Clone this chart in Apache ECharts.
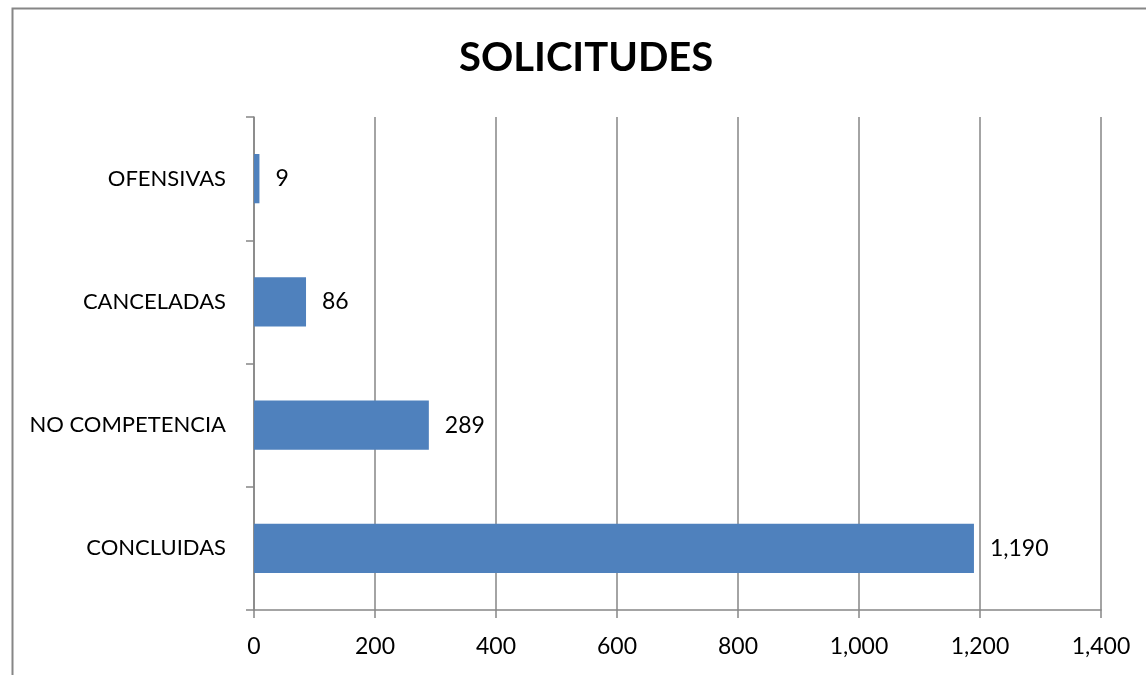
<!DOCTYPE html>
<html>
<head>
<meta charset="utf-8">
<script src="https://cdn.jsdelivr.net/npm/echarts@6/dist/echarts.min.js"></script>
<style>html,body{margin:0;padding:0;background:#fff;}#c{width:1146px;height:675px;}</style>
</head>
<body>
<div id="c"></div>
<script>
const categories = ['CONCLUIDAS', 'NO COMPETENCIA', 'CANCELADAS', 'OFENSIVAS'];
const values = [1190, 289, 86, 9];
const xTicks = [0, 200, 400, 600, 800, 1000, 1200, 1400];

const chart = echarts.init(document.getElementById('c'));
const fmt = v => Number(v).toLocaleString('en-US');
chart.setOption({
  animation: false,
  backgroundColor: '#ffffff',
  textStyle: { fontFamily: 'Lato' },
  graphic: [{
    type: 'rect', left: 10, top: 6, silent: true,
    shape: { x: 0, y: 0, width: 1200, height: 800 },
    style: { fill: 'none', stroke: '#868686', lineWidth: 2 }
  }],
  title: {
    text: 'SOLICITUDES', left: 454, top: 33,
    textStyle: { fontFamily: 'Lato', fontWeight: 'bold', fontSize: 40, color: '#000' }
  },
  grid: { left: 254, right: 45, top: 117, bottom: 65, containLabel: false },
  xAxis: {
    type: 'value', min: xTicks[0], max: xTicks[xTicks.length - 1], interval: 200,
    axisLine: { show: true, lineStyle: { color: '#868686', width: 1.5 } },
    axisTick: { show: true, length: 8, lineStyle: { color: '#868686', width: 1.5 } },
    splitLine: { show: true, lineStyle: { color: '#868686', width: 1.5 } },
    axisLabel: { formatter: fmt, margin: 25, fontSize: 23, color: '#000', fontFamily: 'Lato' }
  },
  yAxis: {
    type: 'category', data: categories,
    axisLine: { show: true, lineStyle: { color: '#868686', width: 1.5 } },
    axisTick: { show: true, length: 8, lineStyle: { color: '#868686', width: 1.5 } },
    splitLine: { show: false },
    axisLabel: { margin: 28, fontSize: 22, color: '#000', fontFamily: 'Lato' }
  },
  series: [{
    type: 'bar', data: values, barCategoryGap: '60%',
    itemStyle: { color: '#4F81BD' },
    label: { show: true, position: 'right', distance: 16, formatter: p => fmt(p.value), fontSize: 23, color: '#000', fontFamily: 'Lato' }
  }]
});
</script>
</body>
</html>
